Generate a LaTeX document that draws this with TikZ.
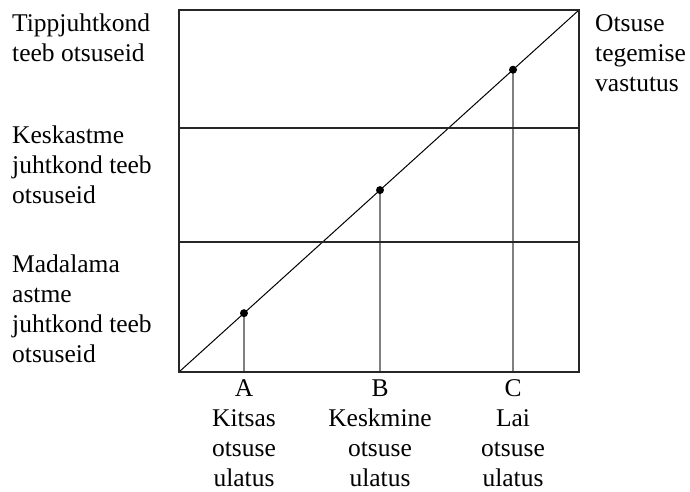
\documentclass[tikz,border=0pt]{standalone}
\usepackage{fontspec}
\setmainfont{Liberation Serif}
\usetikzlibrary{calc}
\begin{document}
\begin{tikzpicture}[x=1pt,y=1pt,
  frame/.style={line width=1.7pt, black!85},
  diag/.style={line width=1pt, black},
  drop/.style={line width=1.2pt, black!50},
  dot/.style={circle, fill=black, inner sep=0pt, minimum size=8pt},
  lab/.style={font=\fontsize{25.5}{30}\selectfont, inner sep=0pt, align=left, anchor=base west},
  cat/.style={font=\fontsize{25.5}{30}\selectfont, inner sep=0pt, align=center, anchor=base}]
\useasboundingbox (0,0) rectangle (690,492);

% frame corners and the two level boundaries
\coordinate (bl) at (179,120);
\coordinate (tr) at (579,482);
\coordinate (br) at (579,120);
\coordinate (tl) at (179,482);
\coordinate (upl) at (179,364);
\coordinate (upr) at (579,364);
\coordinate (lol) at (179,250);
\coordinate (lor) at (579,250);

% responsibility line
\draw[diag] (bl) -- (tr);

% points on the line and their drops to the axis
\coordinate (pa) at ($(bl)!0.1625!(tr)$);
\coordinate (pb) at ($(bl)!0.5025!(tr)$);
\coordinate (pc) at ($(bl)!0.835!(tr)$);
\coordinate (fa) at (pa |- bl);
\coordinate (fb) at (pb |- bl);
\coordinate (fc) at (pc |- bl);
\draw[drop] (pa) -- (fa);
\draw[drop] (pb) -- (fb);
\draw[drop] (pc) -- (fc);
\node[dot] (da) at (pa) {};
\node[dot] (db) at (pb) {};
\node[dot] (dc) at (pc) {};

% frame and level lines
\draw[frame] (bl) rectangle (tr);
\draw[frame] (upl) -- (upr);
\draw[frame] (lol) -- (lor);

% level labels (anchored on the baseline of their last line)
\node[lab] (top) at (12,430) {Tippjuhtkond\\teeb otsuseid};
\node[lab] (mid) at (12,288) {Keskastme\\juhtkond teeb\\otsuseid};
\node[lab] (low) at (12,129) {Madalama\\astme\\juhtkond teeb\\otsuseid};
\node[lab] (resp) at (595,400) {Otsuse\\tegemise\\vastutus};

% scope labels
\node[cat] (la) at (fa |- 0,5) {A\\Kitsas\\otsuse\\ulatus};
\node[cat] (lb) at (fb |- 0,5) {B\\Keskmine\\otsuse\\ulatus};
\node[cat] (lc) at (fc |- 0,5) {C\\Lai\\otsuse\\ulatus};
\end{tikzpicture}
\end{document}
